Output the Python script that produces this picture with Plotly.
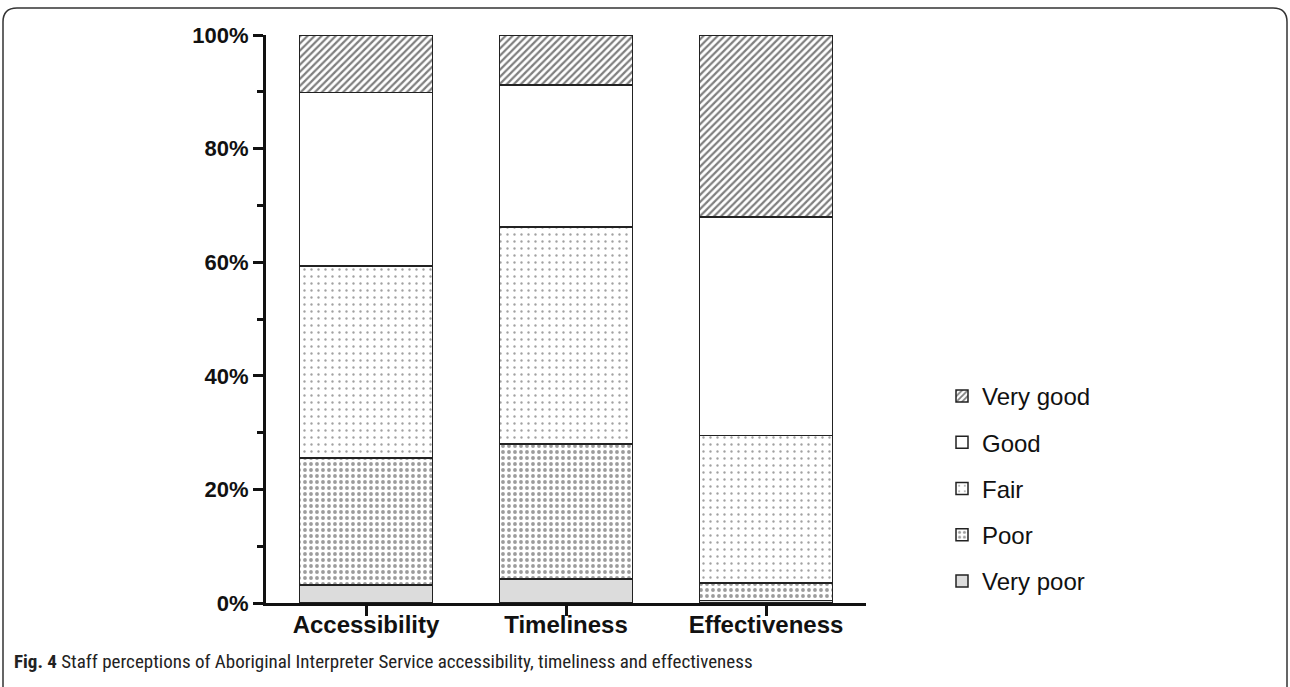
import plotly.graph_objects as go

categories = ["Accessibility", "Timeliness", "Effectiveness"]
very_poor = [3.2, 4.2, 0.4]
poor = [22.3, 23.8, 3.1]
fair = [33.8, 38.2, 26.0]
good = [30.6, 25.0, 38.5]
very_good = [10.1, 8.8, 32.0]
y_tick_values = [0, 20, 40, 60, 80, 100]
y_tick_labels = ["0%", "20%", "40%", "60%", "80%", "100%"]
y_minor_values = [10, 30, 50, 70, 90]

series = [
    ("Very poor", very_poor, "#dcdcdc", dict(shape="")),
    ("Poor", poor, "white", dict(shape=".", size=6, solidity=0.32, fgcolor="#3a3a3a", bgcolor="white", fillmode="overlay")),
    ("Fair", fair, "white", dict(shape=".", size=7, solidity=0.09, fgcolor="#444444", bgcolor="white", fillmode="overlay")),
    ("Good", good, "white", dict(shape="")),
    ("Very good", very_good, "white", dict(shape="/", size=5, solidity=0.45, fgcolor="#000000", bgcolor="white", fillmode="overlay")),
]

fig = go.Figure()
n = len(series)
for i, (name, vals, col, pat) in enumerate(series):
    fig.add_trace(go.Bar(
        x=categories, y=vals, name=name, legendgroup=name, legendrank=n - i,
        marker=dict(color=col, line=dict(color="#222222", width=1.5), pattern=pat),
    ))

W, H = 1290, 687
L, R, T, B = 266, 424, 35, 84
pw, ph = W - L - R, H - T - B

def px(x):
    return (x - L) / pw

def py(y):
    return (H - B - y) / ph

fig.update_layout(
    width=W, height=H,
    margin=dict(l=L, r=R, t=T, b=B),
    barmode="stack", bargap=0.335,
    plot_bgcolor="white", paper_bgcolor="white",
    font=dict(family="Liberation Sans, Arial, sans-serif", color="#111111"),
    legend=dict(
        x=px(942), y=py(374), xanchor="left", yanchor="top",
        traceorder="grouped", tracegroupgap=12,
        font=dict(size=24, color="#111111"),
        bgcolor="rgba(0,0,0,0)",
    ),
    xaxis=dict(
        range=[-0.5, 2.5], showline=True, linewidth=3, linecolor="#111111",
        ticks="outside", ticklen=10, tickwidth=3, tickcolor="#111111",
        tickfont=dict(size=24, weight="bold", color="#111111"),
        ticklabelstandoff=-12,
        showgrid=False, zeroline=False, fixedrange=True,
    ),
    yaxis=dict(
        range=[0, 100], showline=True, linewidth=3, linecolor="#111111",
        ticks="outside", ticklen=10, tickwidth=3, tickcolor="#111111",
        tickmode="array", tickvals=y_tick_values, ticktext=y_tick_labels,
        tickfont=dict(size=22, weight="bold", color="#111111"),
        minor=dict(tickmode="array", tickvals=y_minor_values, ticks="outside", ticklen=6, tickwidth=3, tickcolor="#111111"),
        showgrid=False, zeroline=False, fixedrange=True,
    ),
)

fig.add_annotation(
    xref="paper", yref="paper", x=px(12), y=py(661), xanchor="left", yanchor="middle",
    text="<b>Fig. 4</b> Staff perceptions of Aboriginal Interpreter Service accessibility, timeliness and effectiveness",
    showarrow=False,
    font=dict(family="Liberation Sans Narrow, Arial Narrow, Roboto Condensed, sans-serif", size=19, color="#222222"),
)

# rounded frame around the figure
x0, x1, y0, y1, r = 3, 1287, 8, 705, 14
path = (f"M {px(x0)},{py(y1)} L {px(x0)},{py(y0 + r)} Q {px(x0)},{py(y0)} {px(x0 + r)},{py(y0)} "
        f"L {px(x1 - r)},{py(y0)} Q {px(x1)},{py(y0)} {px(x1)},{py(y0 + r)} L {px(x1)},{py(y1)}")
fig.add_shape(type="path", xref="paper", yref="paper", path=path,
              line=dict(color="#333333", width=1.5), layer="above")

fig.write_html("out.html", config={"displayModeBar": False},
               post_script="document.body.style.margin='0';document.body.style.overflow='hidden';")
